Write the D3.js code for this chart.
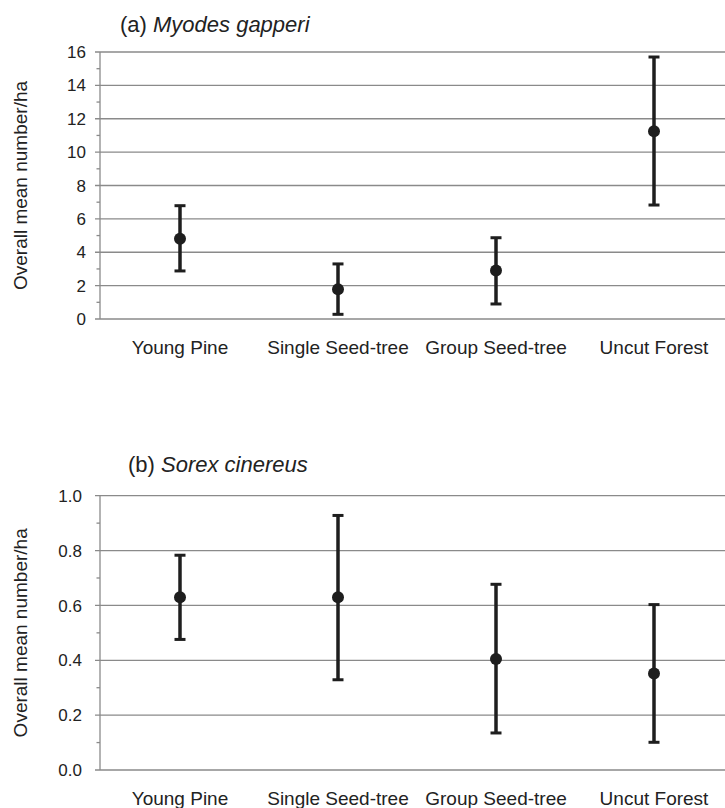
<!doctype html>
<html lang="en">
<head>
  <meta charset="utf-8">
  <script src="https://d3js.org/d3.v7.min.js"></script>
  <style>
    body { margin: 0; background: #fff; }
    svg { display: block; font-family: "Liberation Sans", Arial, sans-serif; }
  </style>
</head>
<body>
<script>
  // habitat types along the x axis
  var categories = ["Young Pine", "Single Seed-tree", "Group Seed-tree", "Uncut Forest"];

  // (a) Myodes gapperi
  var myodesMean = [4.81, 1.78, 2.9, 11.25];
  var myodesLow  = [2.88, 0.28, 0.9, 6.83];
  var myodesHigh = [6.79, 3.3, 4.87, 15.7];
  var myodesTicks = [0, 2, 4, 6, 8, 10, 12, 14, 16];
  var myodesMinor = [1, 3, 5, 7, 9, 11, 13, 15];

  // (b) Sorex cinereus
  var sorexMean = [0.63, 0.63, 0.405, 0.352];
  var sorexLow  = [0.476, 0.329, 0.135, 0.101];
  var sorexHigh = [0.783, 0.928, 0.677, 0.603];
  var sorexTicks = [0, 0.2, 0.4, 0.6, 0.8, 1.0];
  var sorexMinor = [0.1, 0.3, 0.5, 0.7, 0.9];

  var w = 725, h = 808;
  var svg = d3.select("body").append("svg")
    .attr("width", w)
    .attr("height", h);

  var x = d3.scaleBand().domain(categories).range([101, 733]);

  function drawPanel(p) {
    var g = svg.append("g");
    var y = d3.scaleLinear().domain([0, p.max]).range([p.bottom, p.top]);

    // horizontal gridlines at the major ticks
    g.selectAll(".grid")
      .data(p.ticks)
      .enter().append("line")
        .attr("x1", 95).attr("x2", w)
        .attr("y1", function(d){ return y(d); })
        .attr("y2", function(d){ return y(d); })
        .style("stroke", "#8a8a8a")
        .style("stroke-width", 1.3);

    // left axis line and minor ticks
    g.append("line")
      .attr("x1", 100).attr("x2", 100)
      .attr("y1", y(p.max)).attr("y2", y(0))
      .style("stroke", "#8a8a8a")
      .style("stroke-width", 1.3);
    g.selectAll(".minor")
      .data(p.minor)
      .enter().append("line")
        .attr("x1", 96.5).attr("x2", 100)
        .attr("y1", function(d){ return y(d); })
        .attr("y2", function(d){ return y(d); })
        .style("stroke", "#8a8a8a")
        .style("stroke-width", 1.3);

    g.selectAll(".tick-label")
      .data(p.ticks)
      .enter().append("text")
        .attr("x", p.labelX)
        .attr("y", function(d){ return y(d); })
        .attr("dy", "0.36em")
        .attr("text-anchor", "end")
        .style("font-size", "17px")
        .style("fill", "#222")
        .text(function(d){ return p.fmt(d); });

    // category labels
    g.selectAll(".cat")
      .data(categories)
      .enter().append("text")
        .attr("x", function(d){ return x(d) + x.bandwidth() / 2; })
        .attr("y", p.bottom + 35)
        .attr("text-anchor", "middle")
        .style("font-size", "19px")
        .style("fill", "#222")
        .text(function(d){ return d; });

    // y axis title
    g.append("text")
      .attr("transform", "translate(27," + (p.top + p.bottom) / 2 + ") rotate(-90)")
      .attr("text-anchor", "middle")
      .style("font-size", "19px")
      .style("fill", "#222")
      .text("Overall mean number/ha");

    // panel title
    var t = g.append("text")
      .attr("x", p.titleX)
      .attr("y", p.titleY)
      .style("font-size", "22px")
      .style("fill", "#222");
    t.append("tspan").text(p.tag + " ");
    t.append("tspan").style("font-style", "italic").text(p.species);

    // error bars
    var rows = categories.map(function(c, i){
      return { cat: c, mean: p.mean[i], lo: p.low[i], hi: p.high[i] };
    });
    var bars = g.selectAll(".bar")
      .data(rows)
      .enter().append("g")
        .attr("transform", function(d){ return "translate(" + (x(d.cat) + x.bandwidth() / 2) + ",0)"; });
    bars.append("line")
      .attr("y1", function(d){ return y(d.lo); })
      .attr("y2", function(d){ return y(d.hi); })
      .style("stroke", "#1e1e1e")
      .style("stroke-width", 3.5);
    bars.selectAll(".cap")
      .data(function(d){ return [d.lo, d.hi]; })
      .enter().append("line")
        .attr("x1", -5.5).attr("x2", 5.5)
        .attr("y1", function(d){ return y(d); })
        .attr("y2", function(d){ return y(d); })
        .style("stroke", "#1e1e1e")
        .style("stroke-width", 3);
    bars.append("circle")
      .attr("cy", function(d){ return y(d.mean); })
      .attr("r", 6)
      .style("fill", "#1e1e1e");
  }

  drawPanel({
    tag: "(a)", species: "Myodes gapperi",
    mean: myodesMean, low: myodesLow, high: myodesHigh,
    ticks: myodesTicks, minor: myodesMinor, max: 16,
    top: 52, bottom: 319, labelX: 86,
    titleX: 120, titleY: 32,
    fmt: d3.format("d")
  });

  drawPanel({
    tag: "(b)", species: "Sorex cinereus",
    mean: sorexMean, low: sorexLow, high: sorexHigh,
    ticks: sorexTicks, minor: sorexMinor, max: 1.0,
    top: 495.7, bottom: 770, labelX: 82,
    titleX: 128, titleY: 472,
    fmt: d3.format(".1f")
  });
</script>
</body>
</html>
